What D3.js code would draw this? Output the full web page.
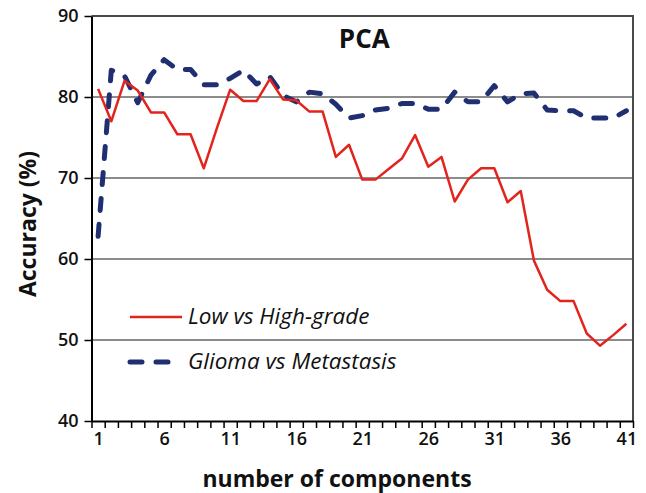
<!DOCTYPE html>
<html>
<head>
<meta charset="utf-8">
<script src="https://cdn.jsdelivr.net/npm/d3@7"></script>
<style>
  body { margin: 0; background: #fff; }
  svg { display: block; font-family: "Open Sans", Lato, sans-serif; }
</style>
</head>
<body>
<div id="chart"></div>
<script>
// number of components (categories)
const components = [1, 2, 3, 4, 5, 6, 7, 8, 9, 10, 11, 12, 13, 14, 15, 16, 17, 18, 19, 20,
    21, 22, 23, 24, 25, 26, 27, 28, 29, 30, 31, 32, 33, 34, 35, 36, 37, 38, 39, 40, 41];
const xTickLabels = [1, 6, 11, 16, 21, 26, 31, 36, 41];
const yTicks = [40, 50, 60, 70, 80, 90];

// accuracy (%) per series
const lowVsHigh = [81, 77, 82, 80.8, 78.1, 78.1, 75.4, 75.4, 71.2, 76.2,
    80.9, 79.5, 79.5, 82.2, 79.7, 79.6, 78.2, 78.2, 72.6, 74.1,
    69.8, 69.8, 71.1, 72.4, 75.3, 71.4, 72.6, 67.1, 69.8, 71.2,
    71.2, 67, 68.4, 59.8, 56.2, 54.8, 54.8, 50.8, 49.3, 50.6, 52];
const gliomaVsMet = [62.8, 83.3, 82.6, 79.3, 82.7, 84.6, 83.4, 83.4, 81.5, 81.5,
    82.3, 83.3, 81.6, 82.5, 80.2, 79.4, 80.6, 80.4, 79.1, 77.4,
    77.7, 78.4, 78.6, 79.2, 79.2, 78.5, 78.5, 80.6, 79.4, 79.4,
    81.4, 79.4, 80.4, 80.5, 78.4, 78.3, 78.3, 77.4, 77.4, 77.4, 78.3];

function init() {
    const w = 646;
    const h = 493;
    const left = 91.5, right = 633, top = 16, bottom = 421;

    const svg = d3.select("#chart")
        .append("svg")
        .attr("width", w)
        .attr("height", h);

    // Excel-style category axis: points sit between tick marks
    const x = d3.scaleLinear()
        .domain([components[0] - 0.5, components[components.length - 1] + 0.5])
        .range([left, right]);
    const y = d3.scaleLinear().domain([40, 90]).range([bottom, top]);

    // gridlines
    svg.append("g")
        .selectAll("line")
        .data(yTicks.slice(1, -1))
        .enter()
        .append("line")
        .attr("x1", left).attr("x2", right)
        .attr("y1", d => y(d)).attr("y2", d => y(d))
        .attr("stroke", "#8c8c8c")
        .attr("stroke-width", 2);

    // plot border (top/right)
    svg.append("path")
        .attr("d", `M${left},${top}H${right}V${bottom}`)
        .attr("fill", "none")
        .attr("stroke", "#4a4a4a")
        .attr("stroke-width", 2);

    // series
    const line = d3.line()
        .x((d, i) => x(components[i]))
        .y(d => y(d));

    svg.append("path")
        .datum(gliomaVsMet)
        .attr("d", line)
        .attr("fill", "none")
        .attr("stroke", "#1f2f72")
        .attr("stroke-width", 5)
        .attr("stroke-dasharray", "12,14")
        .attr("stroke-linecap", "round")
        .attr("stroke-linejoin", "round");

    svg.append("path")
        .datum(lowVsHigh)
        .attr("d", line)
        .attr("fill", "none")
        .attr("stroke", "#e3241d")
        .attr("stroke-width", 2.5)
        .attr("stroke-linejoin", "round");

    // x axis: tick marks between categories
    const boundaries = components.map(c => c - 0.5).concat([components[components.length - 1] + 0.5]);
    const xAxisTicks = svg.append("g")
        .attr("transform", `translate(0,${bottom})`)
        .call(d3.axisBottom(x).tickValues(boundaries).tickSize(7).tickFormat("").tickSizeOuter(0));
    xAxisTicks.select(".domain").attr("stroke", "#000").attr("stroke-width", 2);
    xAxisTicks.selectAll(".tick line").attr("stroke", "#000").attr("stroke-width", 1.5);

    const xAxisLabels = svg.append("g")
        .attr("transform", `translate(0,${bottom})`)
        .call(d3.axisBottom(x).tickValues(xTickLabels).tickSize(0).tickPadding(11));
    xAxisLabels.select(".domain").remove();
    xAxisLabels.selectAll("text")
        .attr("font-size", "18px")
        .attr("font-family", "'Open Sans', sans-serif")
        .attr("font-weight", 600)
        .attr("fill", "#111");

    // y axis
    const yAxis = svg.append("g")
        .attr("transform", `translate(${left},0)`)
        .call(d3.axisLeft(y).tickValues(yTicks).tickSize(7).tickPadding(6).tickSizeOuter(0));
    yAxis.select(".domain").attr("stroke", "#000").attr("stroke-width", 2);
    yAxis.selectAll(".tick line").attr("stroke", "#000").attr("stroke-width", 1.5);
    yAxis.selectAll("text")
        .attr("font-size", "18px")
        .attr("font-family", "'Open Sans', sans-serif")
        .attr("font-weight", 600)
        .attr("fill", "#111");

    // title
    svg.append("text")
        .text("PCA")
        .attr("x", (left + right) / 2 + 2)
        .attr("y", 48)
        .attr("text-anchor", "middle")
        .attr("font-size", "26px")
        .attr("font-weight", "bold")
        .attr("fill", "#111");

    // axis titles
    svg.append("text")
        .text("number of components")
        .attr("x", 337)
        .attr("y", 487)
        .attr("text-anchor", "middle")
        .attr("font-size", "23px")
        .attr("font-weight", "bold")
        .attr("fill", "#111");

    svg.append("text")
        .text("Accuracy (%)")
        .attr("transform", `translate(36,224) rotate(-90)`)
        .attr("text-anchor", "middle")
        .attr("font-size", "23px")
        .attr("font-weight", "bold")
        .attr("fill", "#111");

    // legend
    const legend = [
        { name: "Low vs High-grade", color: "#e3241d", width: 2.5, dash: null, yv: 317 },
        { name: "Glioma vs Metastasis", color: "#1f2f72", width: 5, dash: "12,14", yv: 362 }
    ];
    const lg = svg.selectAll(".legend")
        .data(legend)
        .enter()
        .append("g")
        .attr("class", "legend");
    lg.append("line")
        .attr("x1", 130).attr("x2", 182)
        .attr("y1", d => d.yv).attr("y2", d => d.yv)
        .attr("stroke", d => d.color)
        .attr("stroke-width", d => d.width)
        .attr("stroke-dasharray", d => d.dash)
        .attr("stroke-linecap", d => d.dash ? "round" : "butt");
    lg.append("text")
        .text(d => d.name)
        .attr("x", 188)
        .attr("y", d => d.yv + 7)
        .attr("font-size", "22.5px")
        .attr("font-style", "italic")
        .attr("fill", "#111");
}

window.onload = init;
</script>
</body>
</html>
